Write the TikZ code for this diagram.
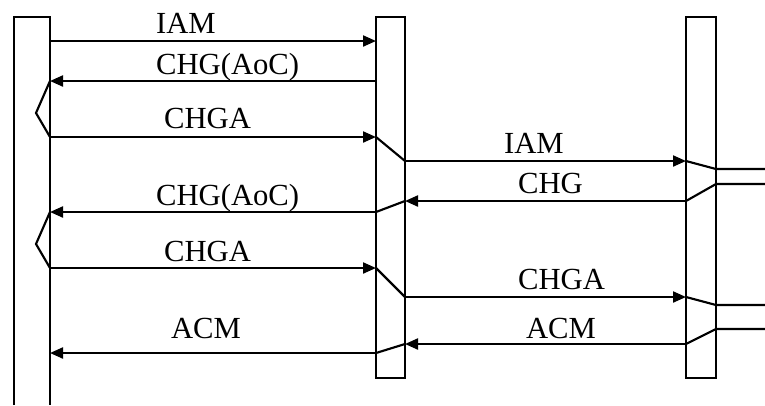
\documentclass[tikz,border=0pt]{standalone}
\usepackage{fontspec}
\setmainfont{Liberation Serif}
\usetikzlibrary{arrows.meta}

\tikzset{every picture/.style={line width=1.6pt}}
\tikzset{msg/.style={-{Triangle[length=9.75pt,width=8.25pt]}},
	lbl/.style={anchor=base west,inner sep=0pt,font=\fontsize{23}{27}\selectfont}}

\begin{document}
\begin{tikzpicture}[x=0.75pt,y=0.75pt,yscale=-1,xscale=1]
	\useasboundingbox (0,0) rectangle (765,405);
	
	%Shape: Left bar
	\draw    (14,405) -- (14,17) -- (50,17) -- (50,405) ;
	%Shape: Middle bar
	\draw    (376,17) rectangle (405,378) ;
	%Shape: Right bar
	\draw    (686,17) rectangle (716,378) ;
	
	% Points on the bars
	\coordinate (l1) at (50,41) ;
	\coordinate (m1) at (376,41) ;
	\coordinate (m2) at (376,81) ;
	\coordinate (l2) at (50,81) ;
	\coordinate (z1) at (36,113) ;
	\coordinate (l3) at (50,137) ;
	\coordinate (m3) at (376,137) ;
	\coordinate (m4) at (405,161) ;
	\coordinate (r4) at (686,161) ;
	\coordinate (s4) at (716,169) ;
	\coordinate (e4) at (765,169) ;
	\coordinate (e5) at (765,184) ;
	\coordinate (s5) at (716,184) ;
	\coordinate (r5) at (686,201) ;
	\coordinate (m5) at (405,201) ;
	\coordinate (m6) at (376,212) ;
	\coordinate (l6) at (50,212) ;
	\coordinate (z2) at (36,244) ;
	\coordinate (l7) at (50,268) ;
	\coordinate (m7) at (376,268) ;
	\coordinate (m8) at (405,297) ;
	\coordinate (r8) at (686,297) ;
	\coordinate (s8) at (716,305) ;
	\coordinate (e8) at (765,305) ;
	\coordinate (e9) at (765,329) ;
	\coordinate (s9) at (716,329) ;
	\coordinate (r9) at (686,344) ;
	\coordinate (m9) at (405,344) ;
	\coordinate (m10) at (376,353) ;
	\coordinate (l10) at (50,353) ;
	
	%Straight Lines: messages
	\draw [msg]   (l1) -- (m1) ;
	\draw [msg]   (m2) -- (l2) ;
	\draw    (l2) -- (z1) -- (l3) ;
	\draw [msg]   (l3) -- (m3) ;
	\draw    (m3) -- (m4) ;
	\draw [msg]   (m4) -- (r4) ;
	\draw    (r4) -- (s4) -- (e4) ;
	\draw    (e5) -- (s5) -- (r5) ;
	\draw [msg]   (r5) -- (m5) ;
	\draw    (m5) -- (m6) ;
	\draw [msg]   (m6) -- (l6) ;
	\draw    (l6) -- (z2) -- (l7) ;
	\draw [msg]   (l7) -- (m7) ;
	\draw    (m7) -- (m8) ;
	\draw [msg]   (m8) -- (r8) ;
	\draw    (r8) -- (s8) -- (e8) ;
	\draw    (e9) -- (s9) -- (r9) ;
	\draw [msg]   (r9) -- (m9) ;
	\draw    (m9) -- (m10) ;
	\draw [msg]   (m10) -- (l10) ;
	
	% Text Node
	\node [lbl] (t1) at (155,33) {IAM};
	% Text Node
	\node [lbl] (t2) at (155,74) {CHG(AoC)};
	% Text Node
	\node [lbl] (t3) at (163,128) {CHGA};
	% Text Node
	\node [lbl] (t4) at (503,153) {IAM};
	% Text Node
	\node [lbl] (t5) at (517,193) {CHG};
	% Text Node
	\node [lbl] (t6) at (155,205) {CHG(AoC)};
	% Text Node
	\node [lbl] (t7) at (163,261) {CHGA};
	% Text Node
	\node [lbl] (t8) at (517,289) {CHGA};
	% Text Node
	\node [lbl] (t9) at (525,338) {ACM};
	% Text Node
	\node [lbl] (t10) at (170,338) {ACM};
	
\end{tikzpicture}
\end{document}
